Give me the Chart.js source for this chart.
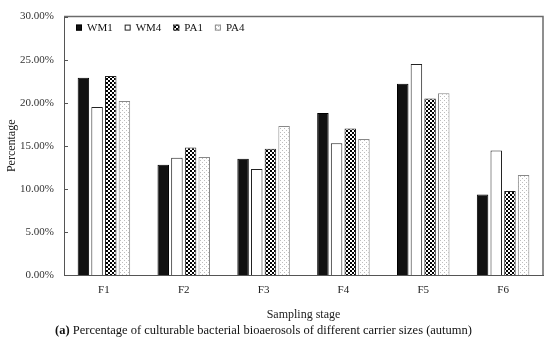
<!DOCTYPE html>
<html><head><meta charset="utf-8">
<script src="https://cdn.jsdelivr.net/npm/chart.js"></script>
<style>html,body{margin:0;padding:0;background:#fff}#wrap{width:550px;height:347px;position:relative}</style>
</head><body><div id="wrap"><canvas id="c" width="550" height="347"></canvas></div>
<script>
const categories = ['F1','F2','F3','F4','F5','F6'];
const seriesNames = ['WM1','WM4','PA1','PA4'];
const WM1 = [22.9, 12.8, 13.5, 18.8, 22.2, 9.35];
const WM4 = [19.5, 13.6, 12.3, 15.3, 24.5, 14.45];
const PA1 = [23.1, 14.8, 14.65, 17.0, 20.5, 9.75];
const PA4 = [20.2, 13.7, 17.3, 15.8, 21.1, 11.6];
const yTicks = [0,5,10,15,20,25,30];
const captionTag = '(a)';
const captionText = ' Percentage of culturable bacterial bioaerosols of different carrier sizes (autumn)';

const FONT = "'Liberation Serif', 'Times New Roman', serif";

function makePattern(draw, w, h){
  const c = document.createElement('canvas'); c.width=w; c.height=h;
  const g = c.getContext('2d'); draw(g);
  return document.getElementById('c').getContext('2d').createPattern(c,'repeat');
}
const checker = makePattern(g=>{g.fillStyle='#fff';g.fillRect(0,0,4,4);g.fillStyle='#000';g.fillRect(0,0,2,2);g.fillRect(2,2,2,2);},4,4);
const dots = makePattern(g=>{g.fillStyle='#fff';g.fillRect(0,0,4,4);g.fillStyle='#bdbdbd';g.fillRect(0,0,1,1);g.fillRect(2,2,1,1);},4,4);

const styles = [
  {bg:'#111', bd:'#000'},
  {bg:'#fff', bd:'#222'},
  {bg:checker, bd:'#222'},
  {bg:dots, bd:'#888'}
];
const values = [WM1, WM4, PA1, PA4];

const frame = {
  id:'frame',
  afterDraw(chart){
    const {ctx, chartArea:a} = chart;
    ctx.save();
    ctx.strokeStyle='#6b6b6b'; ctx.lineWidth=1.5;
    ctx.beginPath();
    ctx.moveTo(a.left, a.top); ctx.lineTo(a.right, a.top); ctx.lineTo(a.right, a.bottom);
    ctx.stroke();
    // inward y ticks
    const y = chart.scales.y;
    ctx.lineWidth=1; ctx.strokeStyle='#555';
    y.ticks.forEach((t,i)=>{
      const py = Math.round(y.getPixelForTick(i))+0.5;
      ctx.beginPath(); ctx.moveTo(a.left, py); ctx.lineTo(a.left+4, py); ctx.stroke();
    });
    // legend
    ctx.font = '11px ' + FONT;
    ctx.textBaseline='middle';
    let x = a.left + 12; const cy = a.top + 11;
    chart.data.datasets.forEach(ds=>{
      const bw = 6;
      ctx.fillStyle = ds.backgroundColor; ctx.fillRect(x, cy-3, bw, bw);
      ctx.strokeStyle = ds.borderColor; ctx.lineWidth=1; ctx.strokeRect(x+0.5, cy-2.5, bw-1, bw-1);
      ctx.fillStyle='#111';
      ctx.fillText(ds.label, x+bw+5, cy+0.5);
      x += bw + 5 + ctx.measureText(ds.label).width + 12;
    });
    // caption
    ctx.fillStyle='#111';
    ctx.textBaseline='middle'; ctx.textAlign='left';
    ctx.font = 'bold 12.5px ' + FONT;
    const w1 = ctx.measureText(captionTag).width;
    ctx.font = '12.5px ' + FONT;
    const w2 = ctx.measureText(captionText).width;
    const cx0 = 263.5 - (w1+w2)/2;
    ctx.font = 'bold 12.5px ' + FONT;
    ctx.fillText(captionTag, cx0, 331);
    ctx.font = '12.5px ' + FONT;
    ctx.fillText(captionText, cx0 + w1, 331);
    ctx.restore();
  }
};

new Chart(document.getElementById('c'), {
  type:'bar',
  data:{
    labels: categories,
    datasets: seriesNames.map((n,i)=>({
      label:n, data:values[i],
      backgroundColor:styles[i].bg, borderColor:styles[i].bd, borderWidth:1,
      categoryPercentage:0.685, barPercentage:0.84
    }))
  },
  options:{
    responsive:false, animation:false, devicePixelRatio:1,
    layout:{padding:{left:0,right:7,top:14,bottom:26}},
    plugins:{
      legend:{display:false},
      tooltip:{enabled:false},
      title:{display:false}
    },
    scales:{
      x:{
        grid:{display:false, drawTicks:false},
        border:{display:true, color:'#555', width:1},
        ticks:{color:'#222', font:{family:FONT,size:11}, padding:9},
        title:{display:true, text:'Sampling stage', color:'#222', font:{family:FONT,size:12,lineHeight:1}, padding:{top:0,bottom:0}},
        afterFit(s){ s.height = 46; }
      },
      y:{
        min:0, max:30,
        afterBuildTicks(s){ s.ticks = yTicks.map(v=>({value:v})); },
        grid:{display:false, drawTicks:false},
        border:{display:true, color:'#555', width:1},
        ticks:{color:'#333', font:{family:FONT,size:11}, padding:10, callback:v=>v.toFixed(2)+'%'},
        title:{display:true, text:'Percentage', color:'#222', font:{family:FONT,size:12}, padding:{top:5,bottom:0}},
        afterFit(s){ s.width = 64; }
      }
    }
  },
  plugins:[frame]
});
</script></body></html>
